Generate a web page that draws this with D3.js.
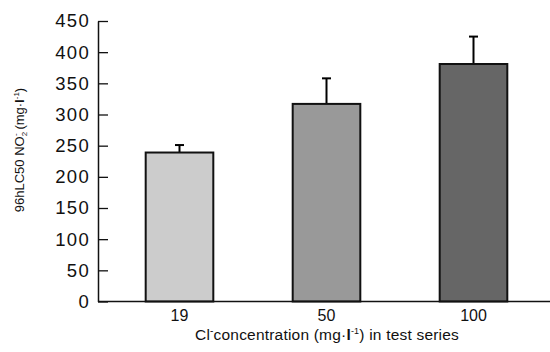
<!DOCTYPE html>
<html>
<head>
<meta charset="utf-8">
<script src="https://cdn.jsdelivr.net/npm/d3@7"></script>
<style>
  body { margin: 0; background: #fff; }
  svg text { font-family: "Liberation Sans", Arial, sans-serif; fill: #111; }
</style>
</head>
<body>
<div id="chart"></div>
<script>
const categories = ['19', '50', '100'];
const lc50Values = [239, 317, 381];
const errValues = [12, 41, 44];
const barColors = ['#cccccc', '#999999', '#666666'];
const yTicks = [0, 50, 100, 150, 200, 250, 300, 350, 400, 450];

const width = 550, height = 352;
const svg = d3.select('#chart').append('svg')
  .attr('width', width)
  .attr('height', height);

const x = d3.scaleBand()
  .domain(categories)
  .range([106, 547])
  .paddingInner(0.54)
  .paddingOuter(0.27);

const y = d3.scaleLinear()
  .domain([0, 450])
  .range([301.5, 21]);

const data = categories.map((c, i) => ({ key: c, value: lc50Values[i], err: errValues[i], color: barColors[i] }));

// error bars (drawn first so bar outline sits on top)
const eb = svg.append('g').selectAll('g')
  .data(data)
  .enter().append('g')
  .attr('stroke', '#000')
  .attr('stroke-width', 2);
eb.append('line')
  .attr('x1', d => x(d.key) + x.bandwidth() / 2)
  .attr('x2', d => x(d.key) + x.bandwidth() / 2)
  .attr('y1', d => y(d.value))
  .attr('y2', d => y(d.value + d.err));
eb.append('line')
  .attr('x1', d => x(d.key) + x.bandwidth() / 2 - 4.5)
  .attr('x2', d => x(d.key) + x.bandwidth() / 2 + 4.5)
  .attr('y1', d => y(d.value + d.err))
  .attr('y2', d => y(d.value + d.err));

svg.append('g').selectAll('rect')
  .data(data)
  .enter().append('rect')
  .attr('x', d => x(d.key))
  .attr('y', d => y(d.value))
  .attr('width', x.bandwidth())
  .attr('height', d => y(0) - y(d.value))
  .attr('fill', d => d.color)
  .attr('stroke', '#111')
  .attr('stroke-width', 2);

// y axis, ticks pointing inward
const yAxis = svg.append('g')
  .attr('transform', 'translate(98,0)')
  .call(d3.axisRight(y).tickValues(yTicks).tickSize(10).tickSizeOuter(0).tickPadding(0));
yAxis.select('.domain').attr('stroke', '#111').attr('stroke-width', 1.5);
yAxis.selectAll('.tick line').attr('stroke', '#111').attr('stroke-width', 1.3);
yAxis.selectAll('.tick text')
  .attr('x', -8)
  .attr('text-anchor', 'end')
  .attr('font-size', 18.5)
  .attr('letter-spacing', 1.3)
  .attr('font-family', '"Liberation Sans", Arial, sans-serif')
  .attr('fill', '#111');

// x axis
const xAxis = svg.append('g')
  .attr('transform', `translate(0,${y(0)})`)
  .call(d3.axisBottom(x).tickSize(0).tickPadding(8));
xAxis.select('.domain').attr('d', `M98,0H550`).attr('stroke', '#111').attr('stroke-width', 1.5);
xAxis.selectAll('.tick text')
  .attr('font-size', 16)
  .attr('font-family', '"Liberation Sans", Arial, sans-serif')
  .attr('fill', '#111');

// x title
const xt = svg.append('text')
  .attr('x', 327)
  .attr('y', 340)
  .attr('text-anchor', 'middle')
  .attr('font-size', 15.5)
  .attr('letter-spacing', 0.2);
xt.append('tspan').text('Cl');
xt.append('tspan').attr('dy', -6).attr('font-size', 10).text('-');
xt.append('tspan').attr('dy', 6).text('concentration (mg·');
xt.append('tspan').attr('font-weight', 'bold').text('l');
xt.append('tspan').attr('dy', -6).attr('font-size', 9).text('-1');
xt.append('tspan').attr('dy', 6).text(') in test series');

// y title
const yt = svg.append('text')
  .attr('transform', 'translate(24,150) rotate(-90)')
  .attr('text-anchor', 'middle')
  .attr('font-size', 13);
yt.append('tspan').text('96hLC50 NO');
yt.append('tspan').attr('dy', 3).attr('font-size', 8).text('2');
yt.append('tspan').attr('dy', -9).attr('dx', -4).attr('font-size', 8).text('-');
yt.append('tspan').attr('dy', 6).text(' (mg·');
yt.append('tspan').attr('font-weight', 'bold').text('l');
yt.append('tspan').attr('dy', -5).attr('font-size', 8).text('-1');
yt.append('tspan').attr('dy', 5).text(')');
</script>
</body>
</html>
